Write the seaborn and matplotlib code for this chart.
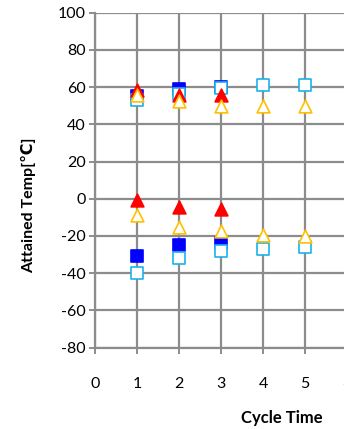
import matplotlib
matplotlib.use("Agg")
import matplotlib.pyplot as plt
import pandas as pd
import seaborn as sns

# Cycle numbers
cycles_a = [1, 2, 3]
cycles_b = [1, 2, 3, 4, 5]

# Attained temperatures (°C): hot side / cold side for each series
blue_hot = [55, 59, 60]
blue_cold = [-31, -25, -24]
sky_hot = [53, 56.5, 59.5, 61, 61]
sky_cold = [-40, -32, -28, -27, -26]
red_hot = [58.5, 56, 55.5]
red_cold = [-0.5, -4.5, -5.5]
amber_hot = [56, 52.5, 50, 50, 50]
amber_cold = [-9, -15, -17.5, -19.5, -20]

y_ticks = [-80, -60, -40, -20, 0, 20, 40, 60, 80, 100]
x_ticks = [0, 1, 2, 3, 4, 5, 6]

sns.set_theme(style="white")
plt.rcParams["font.family"] = ["Lato", "DejaVu Sans"]
plt.rcParams["axes.unicode_minus"] = False

fig = plt.figure(figsize=(3.44, 4.29), dpi=100)
W, H = 344, 429
x0, x1 = 95, 347
y_top, y_bot = 12.7, 347.5
ax = fig.add_axes([x0 / W, 1 - y_bot / H, (x1 - x0) / W, (y_bot - y_top) / H])

series = [
    ("blue", cycles_a, blue_hot, blue_cold, "s", "#0000FF", "#0000FF", 64),
    ("sky", cycles_b, sky_hot, sky_cold, "s", "white", "#1AB3EC", 64),
    ("red", cycles_a, red_hot, red_cold, "^", "#FF0000", "#FF0000", 84),
    ("amber", cycles_b, amber_hot, amber_cold, "^", "white", "#FFC000", 84),
]

for i, (name, xs, hot, cold, mk, face, edge, size) in enumerate(series):
    df = pd.DataFrame({"cycle": list(xs) + list(xs), "temp": list(hot) + list(cold)})
    sns.scatterplot(data=df, x="cycle", y="temp", ax=ax, marker=mk, s=size,
                    color=face, edgecolor=edge, linewidth=1.2, zorder=3 + i,
                    clip_on=False, legend=False)

ax.set_xlim(0, 6)
ax.set_ylim(-80, 100)
ax.set_xticks(x_ticks)
ax.set_yticks(y_ticks)

grid_col = "#8C8C8C"
ax.grid(True, color=grid_col, linewidth=1.6)
ax.set_axisbelow(True)
for side in ("top", "right"):
    ax.spines[side].set_visible(False)
for side in ("left", "bottom"):
    ax.spines[side].set_color(grid_col)
    ax.spines[side].set_linewidth(1.6)

ax.tick_params(axis="y", direction="out", length=4.5, width=1.4, color=grid_col,
               labelsize=11.5, pad=2, left=True, labelcolor="black")
ax.tick_params(axis="x", direction="out", length=4.5, width=1.4, color=grid_col,
               labelsize=11.5, pad=17, bottom=True, labelcolor="black")

ax.set_xlabel("Cycle Time", fontsize=12, fontweight="bold", color="black")
ax.set_ylabel("Attained Temp[℃]", fontsize=11.5, fontweight="bold", color="black")
ax.xaxis.set_label_coords((282 - x0) / (x1 - x0), 1 - (418 - y_top) / (y_bot - y_top))
ax.yaxis.set_label_coords((29 - x0) / (x1 - x0), 1 - (205 - y_top) / (y_bot - y_top))
ax.xaxis.label.set_va("center")
ax.yaxis.label.set_va("center")

fig.savefig("out.png", dpi=100)
